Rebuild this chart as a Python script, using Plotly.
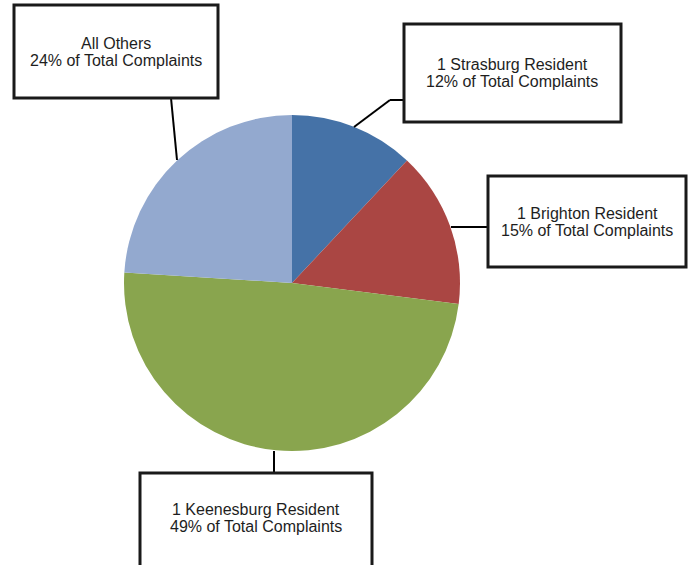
import plotly.graph_objects as go

W, H = 695, 565

labels = ["1 Strasburg Resident", "1 Brighton Resident", "1 Keenesburg Resident", "All Others"]
shares = [12, 15, 49, 24]
colors = ["#4572A7", "#AA4643", "#89A54E", "#93A9CF"]

# pie geometry in pixels
cx, cy, r = 292, 283, 168

def px(x):
    return x / W

def py(y):
    return 1 - y / H

fig = go.Figure(go.Pie(
    labels=labels,
    values=shares,
    sort=False,
    direction="clockwise",
    rotation=0,
    marker=dict(colors=colors, line=dict(width=0)),
    textinfo="none",
    hoverinfo="label+percent",
    showlegend=False,
    domain=dict(x=[px(cx - r), px(cx + r)], y=[py(cy + r), py(cy - r)]),
))

# label boxes: (x0, y0, x1, y1) in pixels, and leader line points
boxes = [
    (404, 24, 621, 122),
    (488, 176, 686, 267),
    (140, 473, 372, 580),
    (14, 5, 218, 98),
]
text_centers = [(512, 73), (587, 222), (256, 518), (116, 52)]
leaders = [
    [(354, 127), (390, 100), (404, 100)],
    [(451, 227), (488, 227)],
    [(274, 451), (274, 473)],
    [(177, 160), (171, 98)],
]

FONT = dict(family="Liberation Sans, Arial, sans-serif", size=16, color="#1e1e1e")
shapes = []
annotations = []
for lab, sh, (x0, y0, x1, y1), (tx, ty), pts in zip(labels, shares, boxes, text_centers, leaders):
    for (ax, ay), (bx, by) in zip(pts[:-1], pts[1:]):
        shapes.append(dict(type="line", xref="paper", yref="paper",
                           x0=px(ax), y0=py(ay), x1=px(bx), y1=py(by),
                           line=dict(color="black", width=2)))
    shapes.append(dict(type="rect", xref="paper", yref="paper",
                       x0=px(x0), y0=py(y1), x1=px(x1), y1=py(y0),
                       fillcolor="white", line=dict(color="#1a1a1a", width=3)))
    for line_text, dy in ((lab, -8.5), (f"{sh}% of Total Complaints", 8.5)):
        annotations.append(dict(
            x=px(tx), y=py(ty + dy), xref="paper", yref="paper",
            text=line_text,
            showarrow=False, xanchor="center", yanchor="middle",
            font=FONT,
        ))

fig.update_layout(
    width=W, height=H,
    margin=dict(l=0, r=0, t=0, b=0),
    paper_bgcolor="white",
    plot_bgcolor="white",
    shapes=shapes,
    annotations=annotations,
)

fig.write_html("out.html", config={"displayModeBar": False},
               post_script="document.body.style.margin='0';")
